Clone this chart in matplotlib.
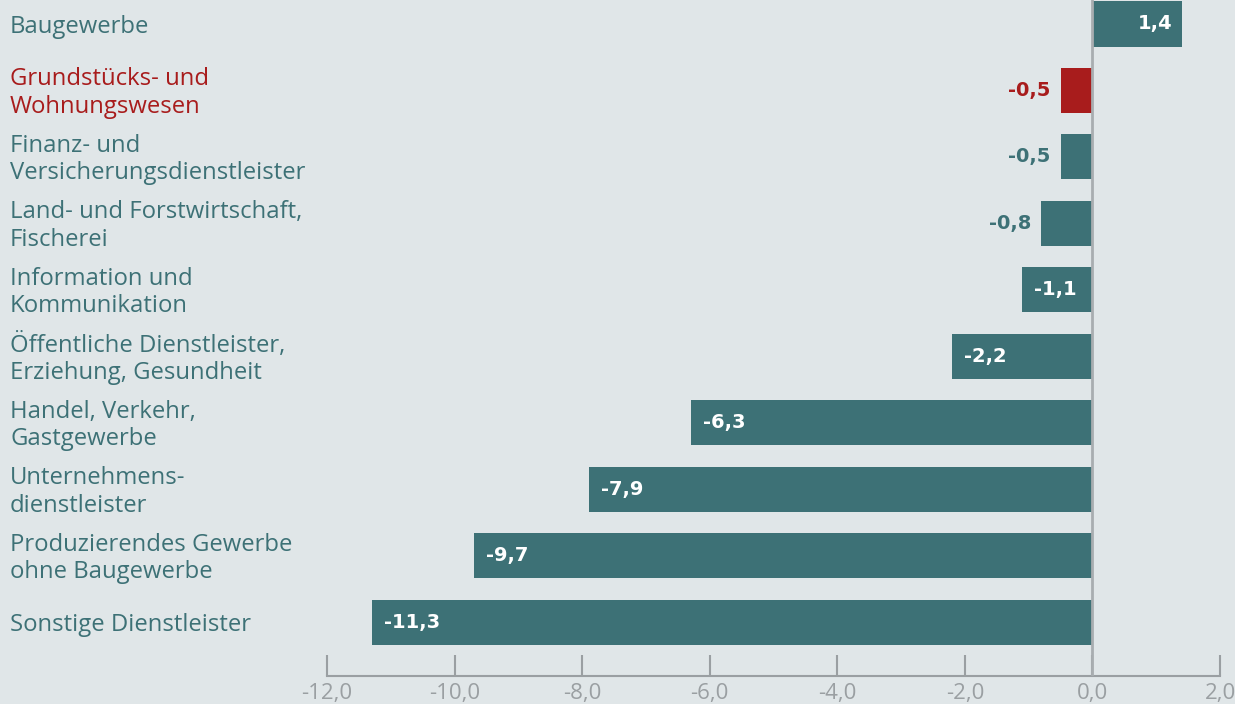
import matplotlib.pyplot as plt
import matplotlib.transforms as mtransforms


categories = [
    "Baugewerbe",
    "Grundstücks- und\nWohnungswesen",
    "Finanz- und\nVersicherungsdienstleister",
    "Land- und Forstwirtschaft,\nFischerei",
    "Information und\nKommunikation",
    "Öffentliche Dienstleister,\nErziehung, Gesundheit",
    "Handel, Verkehr,\nGastgewerbe",
    "Unternehmens-\ndienstleister",
    "Produzierendes Gewerbe\nohne Baugewerbe",
    "Sonstige Dienstleister",
]
values = [1.4, -0.5, -0.5, -0.8, -1.1, -2.2, -6.3, -7.9, -9.7, -11.3]
highlight = "Grundstücks- und\nWohnungswesen"
xticks = [-12, -10, -8, -6, -4, -2, 0, 2]

BG = "#e0e6e8"
TEAL = "#3d7176"
RED = "#a81c1c"
GREY = "#9a9fa2"
FONT = ["Open Sans", "DejaVu Sans"]


def fmt(v):
    return f"{v:.1f}".replace(".", ",")


def main():
    plt.rcParams["font.family"] = FONT
    W, H = 1235, 704
    fig = plt.figure(figsize=(W / 100, H / 100), dpi=100, facecolor=BG)
    ax = fig.add_axes([327 / W, 28 / H, (1220 - 327) / W, 676 / H])
    ax.set_facecolor(BG)

    ys = list(range(len(categories)))
    colors = [RED if c == highlight else TEAL for c in categories]
    ax.barh(ys, values, height=0.68, color=colors, zorder=2)

    ax.set_xlim(-12, 2)
    ax.set_ylim(9.81, -0.36)
    ax.axvline(0, color="#a8adb0", lw=2, zorder=3)

    for s in ["top", "right", "left"]:
        ax.spines[s].set_visible(False)
    ax.spines["bottom"].set_color(GREY)
    ax.spines["bottom"].set_linewidth(1.5)
    ax.set_yticks([])
    ax.set_xticks(xticks)
    ax.set_xticklabels([fmt(t) for t in xticks],
                       family=["Liberation Sans Narrow", "Open Sans"])
    ax.tick_params(axis="x", direction="in", length=15, width=1.5,
                   color=GREY, labelcolor=GREY, labelsize=16, pad=5)

    # value labels
    px = 1 / 63.8  # one pixel in data units
    vfont = dict(fontsize=14, fontweight="bold", family="DejaVu Sans", zorder=4)
    for y, v, c in zip(ys, values, colors):
        if v > 0:
            ax.text(v - 9 * px, y, fmt(v), ha="right", va="center",
                    color="white", **vfont)
        elif v > -1.0:
            ax.text(v - 10 * px, y, fmt(v), ha="right", va="center",
                    color=c, **vfont)
        else:
            ax.text(v + 12 * px, y, fmt(v), ha="left", va="center",
                    color="white", **vfont)

    # category labels
    trans = mtransforms.blended_transform_factory(fig.transFigure, ax.transData)
    for y, cat, c in zip(ys, categories, colors):
        ax.text(10 / W, y + 0.04, cat, transform=trans, ha="left", va="center",
                color=c, fontsize=17.2, linespacing=1.2, clip_on=False)

    fig.savefig("out.png", facecolor=BG)
    plt.close(fig)


if __name__ == "__main__":
    main()
